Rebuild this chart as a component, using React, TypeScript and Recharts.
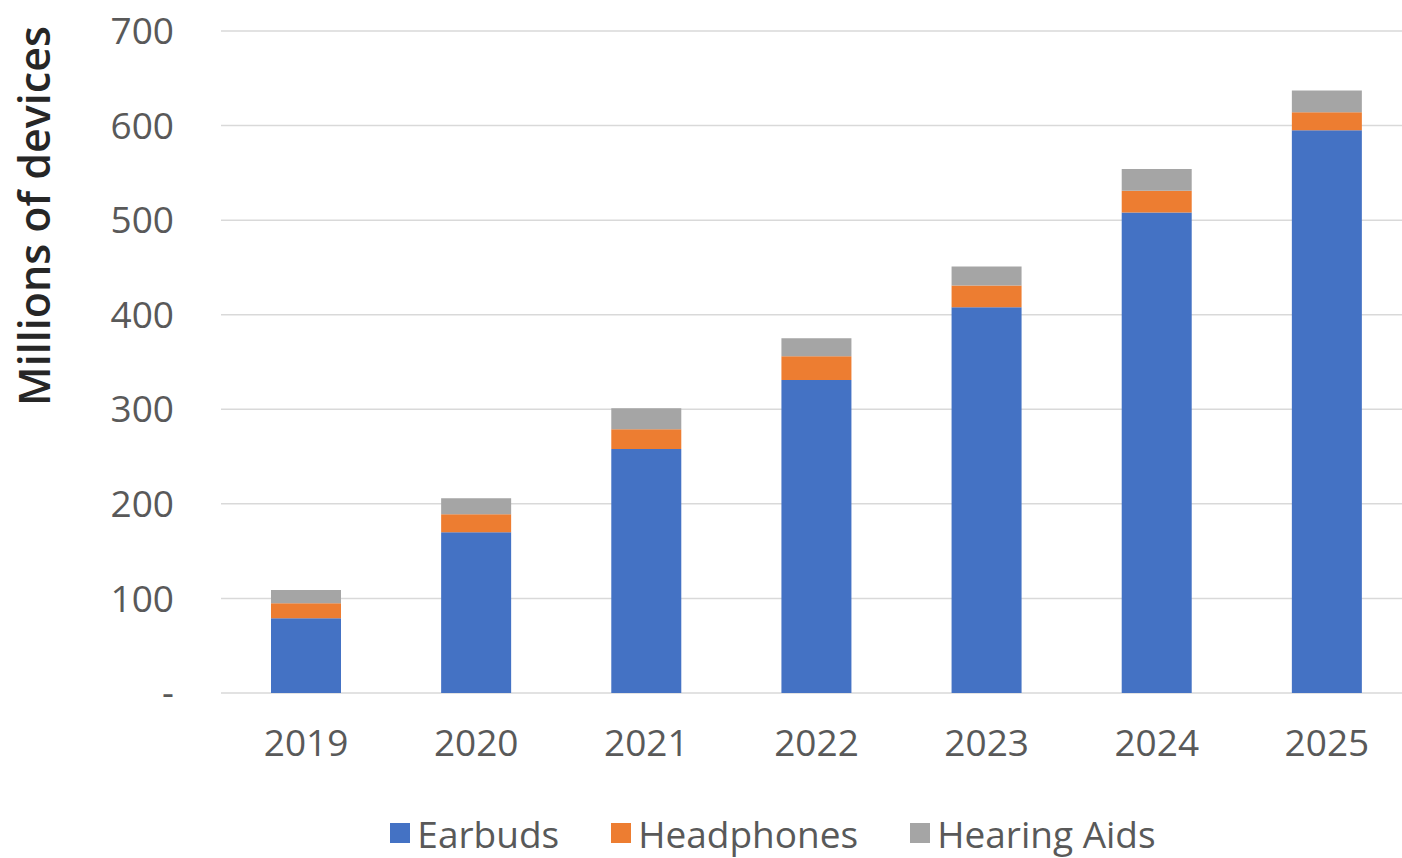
import { BarChart, Bar, XAxis, YAxis, CartesianGrid, Legend, Label } from 'recharts';

const years = ['2019', '2020', '2021', '2022', '2023', '2024', '2025'];
const earbuds = [79, 170, 258, 331, 408, 508, 595];
const headphones = [16, 19, 21, 25, 23, 23, 19];
const hearingAids = [14, 17, 22, 19, 20, 23, 23];
const yTicks = [0, 100, 200, 300, 400, 500, 600, 700];

const series = [
    { key: 'earbuds', name: 'Earbuds', color: '#4472C4' },
    { key: 'headphones', name: 'Headphones', color: '#ED7D31' },
    { key: 'hearingAids', name: 'Hearing Aids', color: '#A5A5A5' },
];

const data = years.map((year, i) => ({
    year,
    earbuds: earbuds[i],
    headphones: headphones[i],
    hearingAids: hearingAids[i],
}));

const FONT = '"Open Sans", sans-serif';
const TEXT = '#595959';

function LegendBox() {
    return (
        <div style={{ height: 50, display: 'flex', justifyContent: 'center', alignItems: 'center', gap: 52, paddingLeft: 134, fontFamily: FONT, fontSize: 37, color: TEXT }}>
            {series.map(s => (
                <div key={s.key} style={{ display: 'flex', alignItems: 'center', gap: 7 }}>
                    <span style={{ width: 20, height: 20, background: s.color, display: 'inline-block' }} />
                    <span>{s.name}</span>
                </div>
            ))}
        </div>
    );
}

function AxisTitle() {
    const y = 216;
    const x = 50;
    return (
        <text x={x} y={y} transform={`rotate(-90, ${x}, ${y})`} textAnchor="middle" fontFamily={FONT} fontSize={43} fontWeight={600} fill="#262626">
            Millions of devices
        </text>
    );
}

export default function App() {
    return (
        <div style={{ width: 1402, height: 858, overflow: 'hidden' }}>
            <style>{'body{margin:0;overflow:hidden}'}</style>
            <BarChart width={1412} height={858} data={data} margin={{ top: 31, right: 0, left: 0, bottom: 0 }}>
                <CartesianGrid vertical={false} stroke="#D9D9D9" strokeWidth={1.5} />
                <XAxis
                    dataKey="year"
                    height={115}
                    axisLine={false}
                    tickLine={false}
                    tickSize={35}
                    tick={{ fontFamily: FONT, fontSize: 37, fill: TEXT }}
                />
                <YAxis
                    width={221}
                    domain={[0, 700]}
                    ticks={yTicks}
                    axisLine={false}
                    tickLine={false}
                    tickSize={45}
                    tickFormatter={(v: number) => (v === 0 ? '-' : String(v))}
                    tick={{ fontFamily: FONT, fontSize: 37, fill: TEXT }}
                >
                    <Label content={<AxisTitle />} />
                </YAxis>
                <Legend verticalAlign="bottom" content={() => <LegendBox />} />
                {series.map(s => (
                    <Bar key={s.key} dataKey={s.key} name={s.name} stackId="a" fill={s.color} barSize={70} isAnimationActive={false} />
                ))}
            </BarChart>
        </div>
    );
}
